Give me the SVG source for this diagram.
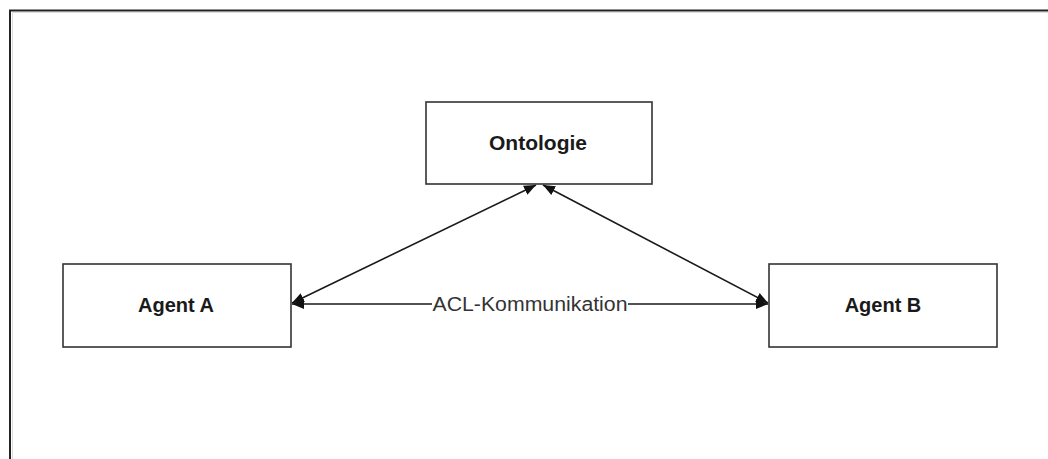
<svg xmlns="http://www.w3.org/2000/svg" width="1048" height="459" viewBox="0 0 1048 459">
  <style>
    .box { fill: #ffffff; stroke: #333333; stroke-width: 1.6; }
    .label { font-family: "Liberation Sans", Arial, sans-serif; font-size: 20px; font-weight: bold; fill: #1a1a1a; text-anchor: middle; }
    .edge { stroke: #1a1a1a; stroke-width: 1.6; fill: none; marker-start: url(#head); marker-end: url(#head); }
    .edge-label { font-family: "Liberation Sans", Arial, sans-serif; font-size: 20px; fill: #333333; text-anchor: middle; }
  </style>
  <defs>
    <marker id="head" viewBox="0 0 12 10" refX="12" refY="5" markerWidth="12" markerHeight="10" markerUnits="userSpaceOnUse" orient="auto-start-reverse">
      <path d="M0,0 L12,5 L0,10 Z" fill="#111111"/>
    </marker>
  </defs>

  <!-- page background and outer frame -->
  <rect x="0" y="0" width="1048" height="459" fill="#ffffff"/>
  <path d="M10,459 V10.5 H1048" fill="none" stroke="#222222" stroke-width="2"/>
  <path d="M12.5,459 V12.5 H1048" fill="none" stroke="#dddddd" stroke-width="1"/>

  <!-- connectors -->
  <g id="connectors">
    <line class="edge" x1="292" y1="304" x2="768" y2="304"/>
    <line class="edge" x1="292" y1="303" x2="536" y2="185"/>
    <line class="edge" x1="543" y1="185" x2="768" y2="303"/>
    <rect x="432" y="292" width="196" height="24" fill="#ffffff"/>
    <text class="edge-label" x="530" y="311" textLength="195" lengthAdjust="spacingAndGlyphs">ACL-Kommunikation</text>
  </g>

  <!-- nodes -->
  <g id="ontologie">
    <rect class="box" x="426" y="102" width="226" height="82"/>
    <text class="label" x="538" y="150" textLength="98" lengthAdjust="spacingAndGlyphs">Ontologie</text>
  </g>
  <g id="agent-a">
    <rect class="box" x="63" y="264" width="228" height="83"/>
    <text class="label" x="176" y="312">Agent A</text>
  </g>
  <g id="agent-b">
    <rect class="box" x="769" y="264" width="228" height="83"/>
    <text class="label" x="883" y="312">Agent B</text>
  </g>
</svg>
